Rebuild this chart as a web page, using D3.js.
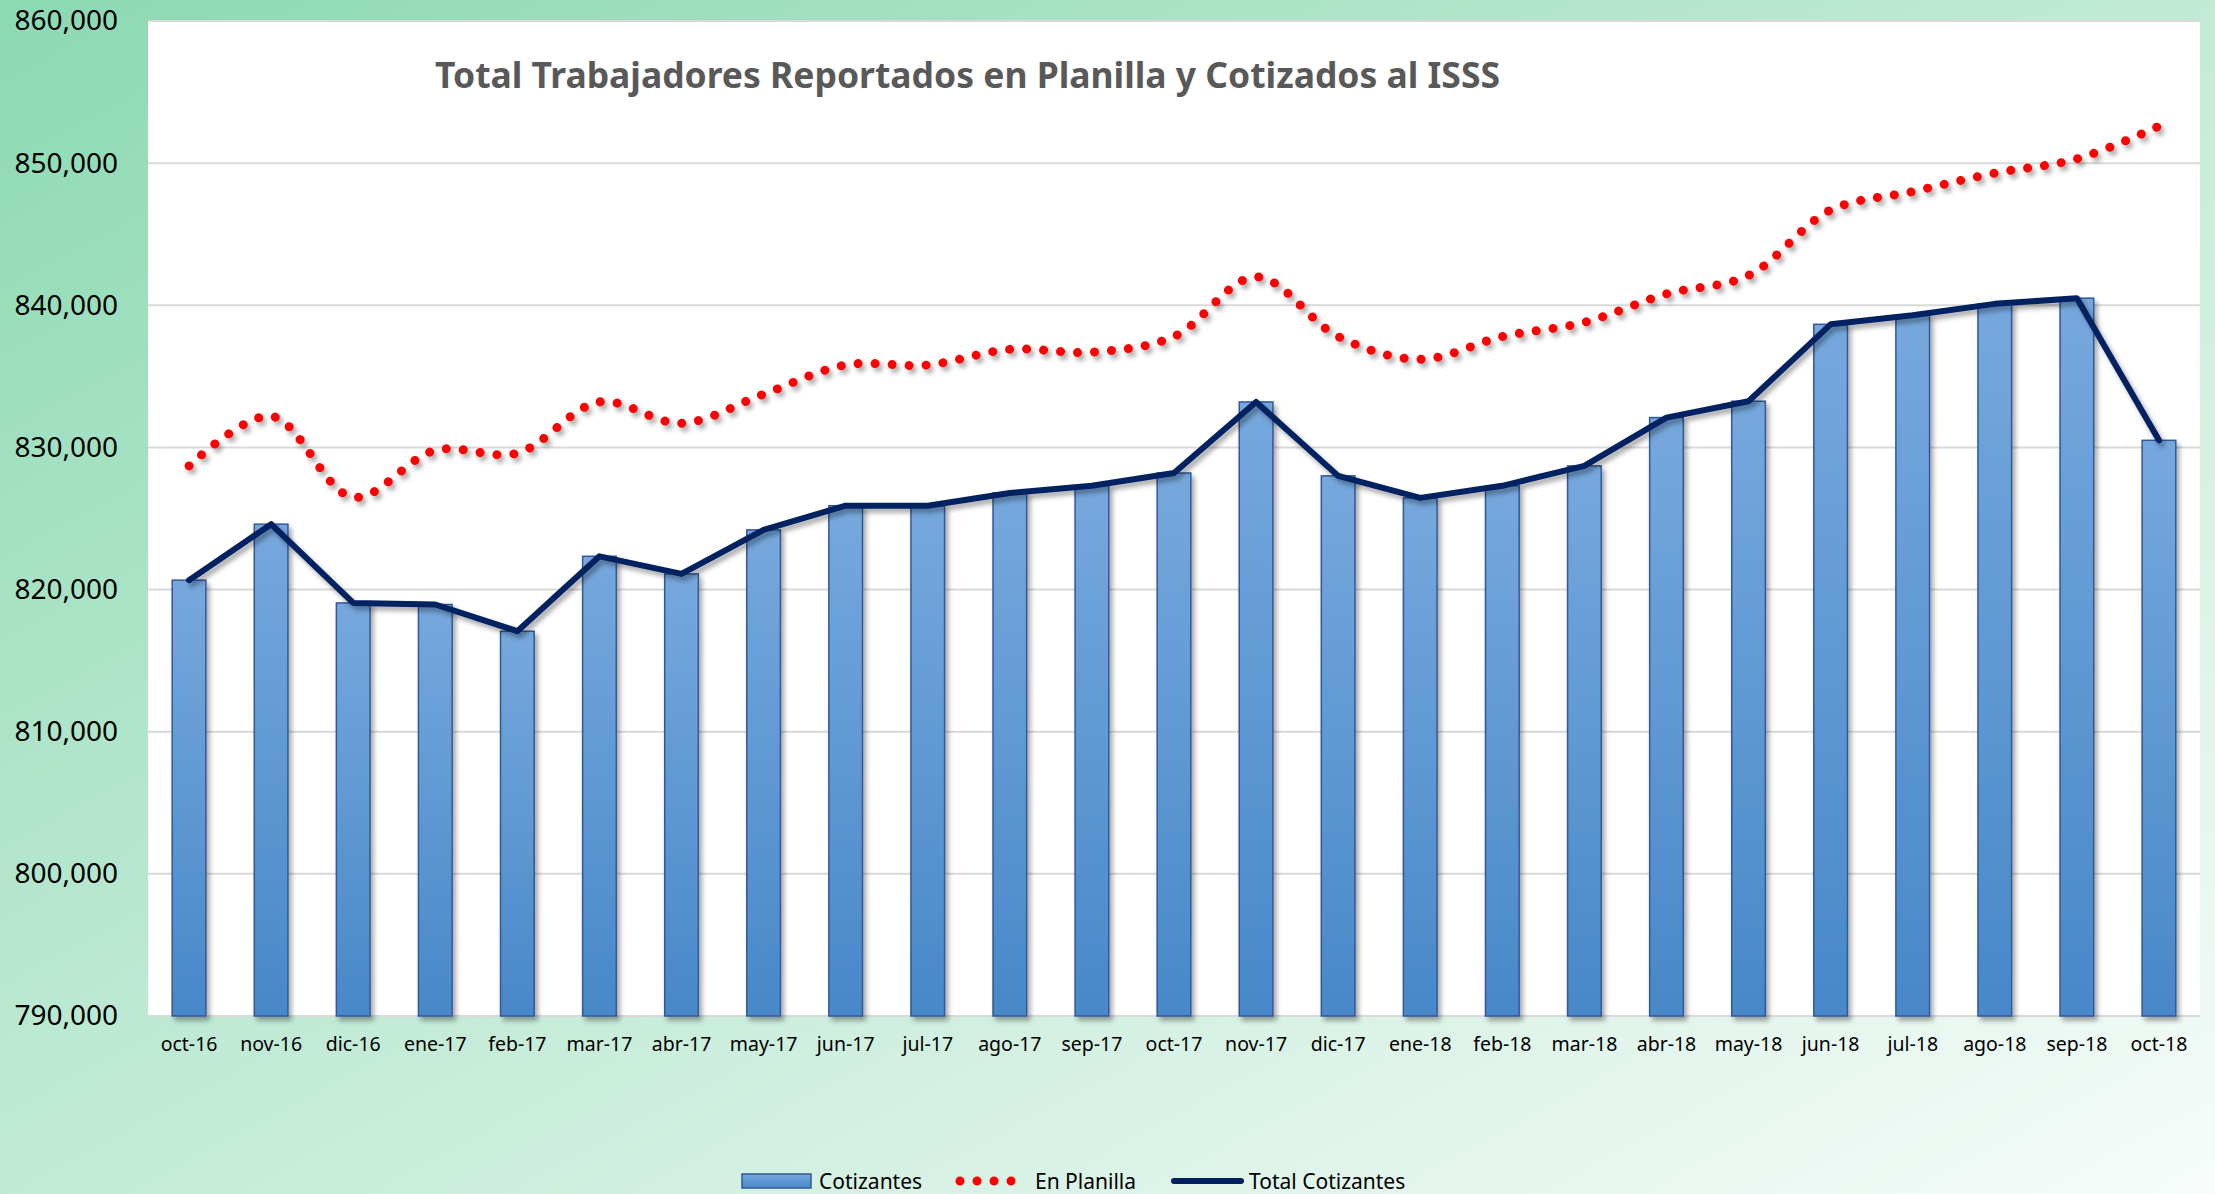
<html>

<head>
    <style>
        body {
            margin: 0;
            overflow: hidden;
        }
        text {
            font-family: "Noto Sans", "Open Sans", sans-serif;
        }
    </style>
</head>

<body>
    <svg id="container" width="2215" height="1194"></svg>
</body>

<script src="https://cdn.jsdelivr.net/npm/d3@7"></script>
<script>
    // values (workers)
    let months = ["oct-16", "nov-16", "dic-16", "ene-17", "feb-17", "mar-17", "abr-17", "may-17",
        "jun-17", "jul-17", "ago-17", "sep-17", "oct-17", "nov-17", "dic-17", "ene-18", "feb-18",
        "mar-18", "abr-18", "may-18", "jun-18", "jul-18", "ago-18", "sep-18", "oct-18"]

    let cotizantes = [820660, 824600, 819060, 818950, 817070, 822340, 821100, 824200,
        825900, 825900, 826800, 827300, 828200, 833200, 828000, 826450, 827300,
        828700, 832100, 833250, 838660, 839300, 840100, 840500, 830500]

    let enPlanilla = [828700, 832200, 826500, 829800, 829600, 833200, 831700, 833750,
        835800, 835800, 836900, 836700, 837800, 842000, 837800, 836200, 837800,
        838800, 840800, 842100, 846700, 848000, 849300, 850300, 852600]

    let yTicks = [790000, 800000, 810000, 820000, 830000, 840000, 850000, 860000]

    let title = "Total Trabajadores Reportados en Planilla y Cotizados al ISSS"
    let legendNames = ["Cotizantes", "En Planilla", "Total Cotizantes"]

    let svg = d3.select("#container")
    let defs = svg.append("defs")

    let bg = defs.append("linearGradient").attr("id", "bg")
        .attr("x1", 0).attr("y1", 0).attr("x2", 1).attr("y2", 1)
    bg.append("stop").attr("offset", "0%").attr("stop-color", "#8cd9b2")
    bg.append("stop").attr("offset", "100%").attr("stop-color", "#f7fcfa")

    let barFill = defs.append("linearGradient").attr("id", "barFill")
        .attr("x1", 0).attr("y1", 0).attr("x2", 0).attr("y2", 1)
    barFill.append("stop").attr("offset", "0%").attr("stop-color", "#76a8dd")
    barFill.append("stop").attr("offset", "100%").attr("stop-color", "#4888c9")

    let shadow = defs.append("filter").attr("id", "shadow")
        .attr("x", "-20%").attr("y", "-20%").attr("width", "140%").attr("height", "140%")
    shadow.append("feDropShadow")
        .attr("dx", 3).attr("dy", 4).attr("stdDeviation", 2.5)
        .attr("flood-color", "#000").attr("flood-opacity", 0.35)

    svg.append("rect")
        .attr("width", 2215).attr("height", 1194)
        .attr("fill", "url(#bg)")

    let plotLeft = 148, plotRight = 2200, plotTop = 21, plotBottom = 1016

    svg.append("rect")
        .attr("x", plotLeft).attr("y", plotTop)
        .attr("width", plotRight - plotLeft).attr("height", plotBottom - plotTop)
        .attr("fill", "#ffffff")

    let x = d3.scaleBand()
        .domain(months)
        .range([plotLeft, plotRight])
        .paddingInner(0.59)
        .paddingOuter(0.295)

    let y = d3.scaleLinear()
        .domain([790000, 860000])
        .range([plotBottom, plotTop])

    // gridlines
    svg.append("g")
        .selectAll("line")
        .data(yTicks)
        .enter()
        .append("line")
        .attr("x1", plotLeft).attr("x2", plotRight)
        .attr("y1", d => y(d)).attr("y2", d => y(d))
        .attr("stroke", "#d9d9d9")
        .attr("stroke-width", 2)

    let yAxis = svg.append("g")
        .attr("transform", `translate(${plotLeft},0)`)
        .call(d3.axisLeft(y).tickValues(yTicks).tickFormat(d3.format(",")).tickSize(0).tickPadding(30))
    yAxis.select(".domain").remove()
    yAxis.selectAll("text")
        .style("font-family", "'Noto Sans', sans-serif")
        .attr("font-size", 28)
        .attr("fill", "#000")

    let xAxis = svg.append("g")
        .attr("transform", `translate(0,${plotBottom})`)
        .call(d3.axisBottom(x).tickSize(0).tickPadding(21))
    xAxis.select(".domain").remove()
    xAxis.selectAll("text")
        .style("font-family", "'Noto Sans', sans-serif")
        .attr("font-size", 19.5)
        .attr("fill", "#000")

    // bars
    svg.append("g")
        .attr("filter", "url(#shadow)")
        .selectAll("rect")
        .data(cotizantes)
        .enter()
        .append("rect")
        .attr("x", (d, i) => x(months[i]))
        .attr("y", d => y(d))
        .attr("width", x.bandwidth())
        .attr("height", d => plotBottom - y(d))
        .attr("fill", "url(#barFill)")
        .attr("stroke", "#31599a")
        .attr("stroke-width", 1.5)

    let cx = (d, i) => x(months[i]) + x.bandwidth() / 2

    // en planilla, smoothed dotted line
    let smooth = d3.line()
        .x(cx)
        .y(d => y(d))
        .curve(d3.curveCatmullRom.alpha(0.5))

    svg.append("path")
        .datum(enPlanilla)
        .attr("d", smooth)
        .attr("fill", "none")
        .attr("stroke", "#ff0000")
        .attr("stroke-width", 9)
        .attr("stroke-linecap", "round")
        .attr("stroke-dasharray", "0.01 17")
        .attr("filter", "url(#shadow)")

    // total cotizantes line
    let straight = d3.line()
        .x(cx)
        .y(d => y(d))

    svg.append("path")
        .datum(cotizantes)
        .attr("d", straight)
        .attr("fill", "none")
        .attr("stroke", "#002060")
        .attr("stroke-width", 6)
        .attr("stroke-linejoin", "round")
        .attr("stroke-linecap", "round")
        .attr("filter", "url(#shadow)")

    svg.append("text")
        .attr("x", 435)
        .attr("y", 88)
        .attr("font-size", 35)
        .attr("font-weight", "bold")
        .attr("fill", "#595959")
        .attr("textLength", 1065)
        .attr("lengthAdjust", "spacingAndGlyphs")
        .text(title)

    // legend
    let legend = svg.append("g")
    let ly = 1181

    legend.append("rect")
        .attr("x", 742).attr("y", ly - 7)
        .attr("width", 69).attr("height", 14)
        .attr("fill", "url(#barFill)")
        .attr("stroke", "#31599a")
        .attr("stroke-width", 1.5)

    legend.append("line")
        .attr("x1", 960).attr("x2", 1016)
        .attr("y1", ly).attr("y2", ly)
        .attr("stroke", "#ff0000")
        .attr("stroke-width", 9)
        .attr("stroke-linecap", "round")
        .attr("stroke-dasharray", "0.01 17")

    legend.append("line")
        .attr("x1", 1174).attr("x2", 1241)
        .attr("y1", ly).attr("y2", ly)
        .attr("stroke", "#002060")
        .attr("stroke-width", 6)
        .attr("stroke-linecap", "round")

    let legendX = [819, 1035, 1249]
    legend.selectAll("text")
        .data(legendNames)
        .enter()
        .append("text")
        .attr("x", (d, i) => legendX[i])
        .attr("y", ly + 8)
        .attr("font-size", 21)
        .attr("fill", "#000")
        .text(d => d)
</script>

</html>
